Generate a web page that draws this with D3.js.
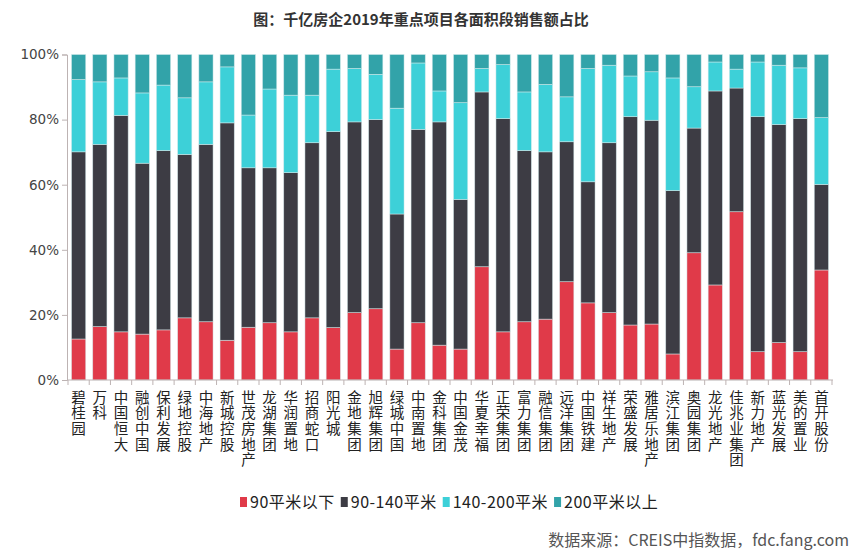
<!DOCTYPE html>
<html>
<head>
<meta charset="utf-8">
<script src="https://cdn.jsdelivr.net/npm/d3@7"></script>
<style>
  html, body { margin: 0; padding: 0; background: #fff; }
  svg { display: block; }
</style>
</head>
<body>
<svg id="chart" width="853" height="559"></svg>
<script>
const categories = ["碧桂园","万科","中国恒大","融创中国","保利发展","绿地控股","中海地产","新城控股","世茂房地产","龙湖集团","华润置地","招商蛇口","阳光城","金地集团","旭辉集团","绿城中国","中南置地","金科集团","中国金茂","华夏幸福","正荣集团","富力集团","融信集团","远洋集团","中国铁建","祥生地产","荣盛发展","雅居乐地产","滨江集团","奥园集团","龙光地产","佳兆业集团","新力地产","蓝光发展","美的置业","首开股份"];

const seriesNames = ["90平米以下","90-140平米","140-200平米","200平米以上"];

// shares in percent
const under90   = [12.6,16.4,14.8,14.1,15.4,19.1,17.9,12.2,16.2,17.6,14.8,19.1,16.1,20.7,21.9,9.5,17.6,10.7,9.5,34.8,14.8,17.9,18.7,30.2,23.7,20.7,16.9,17.2,8.0,39.1,29.2,51.7,8.7,11.5,8.7,33.8];
const s90to140  = [57.5,56.0,66.5,52.5,55.1,50.2,54.5,66.8,49.0,47.6,48.9,53.8,60.2,58.6,58.1,41.5,59.4,68.6,46.0,53.7,65.5,52.6,51.4,43.0,37.2,52.2,64.0,62.6,50.2,38.3,59.6,38.0,72.2,67.0,71.6,26.3];
const s140to200 = [22.2,19.2,11.5,21.6,20.1,17.4,19.2,17.2,16.2,24.2,23.8,14.6,19.2,16.4,13.9,32.5,20.4,9.5,29.7,7.2,16.6,18.0,20.7,13.8,34.8,23.8,12.5,14.9,34.6,12.7,8.9,5.8,16.8,18.2,15.6,20.5];
const over200   = [7.7,8.4,7.2,11.8,9.4,13.3,8.4,3.8,18.6,10.6,12.5,12.5,4.5,4.3,6.1,16.5,2.6,11.2,14.8,4.3,3.1,11.5,9.2,13.0,4.3,3.3,6.6,5.3,7.2,9.9,2.3,4.5,2.3,3.3,4.1,19.4];

const yTicks = [0,20,40,60,80,100];
const colors = ["#e03a49","#3d3c44","#3dd0d8","#32a3a9"];

const seriesValues = [under90, s90to140, s140to200, over200];
const table = categories.map((c,i) => {
  const row = {name: c};
  seriesNames.forEach((s,k) => row[s] = seriesValues[k][i]);
  return row;
});

const svg = d3.select("#chart");
const W = 853, H = 559;
const m = {left: 68, right: 21, top: 54.5, bottom: 179};

const x = d3.scaleBand().domain(categories).range([m.left, W - m.right]).paddingInner(0.33).paddingOuter(0.165);
const y = d3.scaleLinear().domain([0,100]).range([H - m.bottom, m.top]);

const stack = d3.stack().keys(seriesNames).value((d,k) => {
  const tot = seriesNames.reduce((a,s) => a + d[s], 0);
  return d[k] / tot * 100;
});
const layers = stack(table);

// Title
svg.append("text")
  .attr("x", 421).attr("y", 25)
  .attr("text-anchor","middle")
  .attr("font-family","'Noto Sans CJK SC', sans-serif")
  .attr("font-weight","bold")
  .attr("font-size",15)
  .attr("fill","#333")
  .text("图：千亿房企2019年重点项目各面积段销售额占比");

// bars
const g = svg.append("g");
layers.forEach((layer,k) => {
  g.selectAll(null).data(layer).join("rect")
    .attr("x", d => x(d.data.name))
    .attr("width", x.bandwidth())
    .attr("y", d => y(d[1]))
    .attr("height", d => y(d[0]) - y(d[1]))
    .attr("fill", colors[k])
    .attr("stroke", "rgba(215,235,236,0.7)")
    .attr("stroke-width", 0.7);
});

// y axis
const axisColor = "#bdb3b3";
const yAxis = svg.append("g")
  .attr("transform", `translate(${m.left - 1},0)`)
  .call(d3.axisLeft(y).tickValues(yTicks).tickFormat(d => d + "%").tickSize(5).tickPadding(3));
yAxis.select(".domain").attr("stroke", axisColor);
yAxis.selectAll(".tick line").attr("stroke", axisColor);
yAxis.selectAll(".tick text")
  .attr("font-family","'DejaVu Sans', Verdana, sans-serif")
  .attr("font-size",13.5)
  .attr("fill","#444");

// x axis
const xAxis = svg.append("g")
  .attr("transform", `translate(0,${y(0)})`)
  .call(d3.axisBottom(x).tickSize(0).tickFormat(""));
xAxis.select(".domain").attr("stroke", axisColor).attr("d", `M${m.left - 1},0H${W - m.right + 1}`);
const step = x.step();
const bounds = d3.range(categories.length + 1).map(i => x(categories[0]) - (step - x.bandwidth())/2 + i*step);
xAxis.selectAll(".bt").data(bounds).join("line")
  .attr("x1", d => d).attr("x2", d => d)
  .attr("y1", 0).attr("y2", 5)
  .attr("stroke", axisColor);

// vertical labels (single text each, vertical writing mode)
svg.append("g").selectAll("text").data(categories).join("text")
  .attr("x", d => x(d) + x.bandwidth()/2)
  .attr("y", y(0) + 10)
  .attr("writing-mode", "tb")
  .style("writing-mode", "vertical-rl")
  .style("text-orientation", "upright")
  .attr("text-anchor","start")
  .attr("font-family","'Noto Sans CJK SC', sans-serif")
  .attr("font-size",14.5)
  .attr("letter-spacing",1.1)
  .attr("fill","#222")
  .text(d => d);

// legend
const leg = svg.append("g").attr("transform","translate(0,502)");
let cx = 240;
seriesNames.forEach((s,k) => {
  leg.append("rect").attr("x", cx).attr("y", -5).attr("width", 7).attr("height", 10).attr("fill", colors[k]);
  const t = leg.append("text")
    .attr("x", cx + 10).attr("y", 6)
    .attr("font-family","'Noto Sans CJK SC', sans-serif")
    .attr("font-size",16)
    .attr("letter-spacing",0.5)
    .attr("fill","#222")
    .text(s);
  cx = cx + 10 + t.node().getComputedTextLength() + 6;
});

// source
svg.append("text")
  .attr("x", 849).attr("y", 546)
  .attr("text-anchor","end")
  .attr("font-family","'Noto Sans CJK SC', sans-serif")
  .attr("font-size",16)
  .attr("fill","#555")
  .text("数据来源：CREIS中指数据，fdc.fang.com");
</script>
</body>
</html>
